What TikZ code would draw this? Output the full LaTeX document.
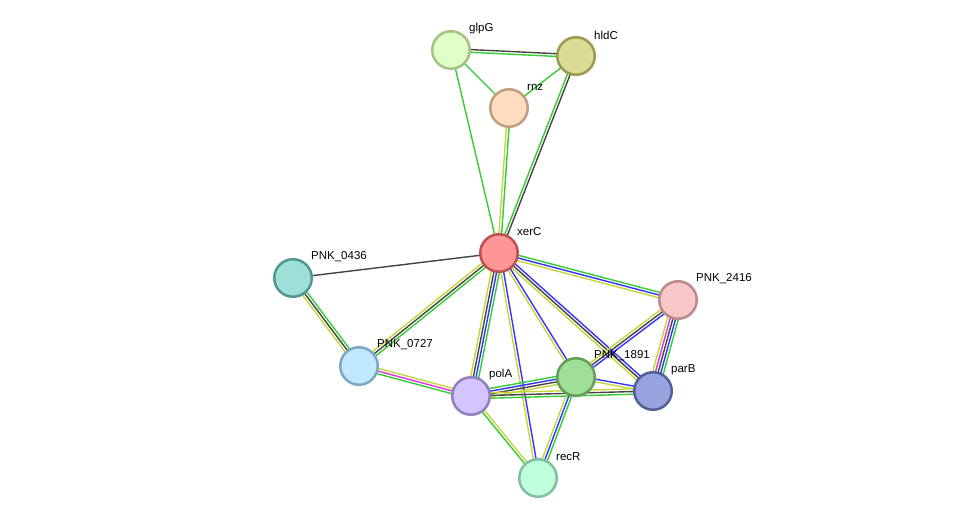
\documentclass[tikz,border=0pt]{standalone}
\usepackage{fontspec}
\setmainfont{Liberation Sans}
\usetikzlibrary{calc,backgrounds}
\definecolor{eg}{HTML}{33CC33}
\definecolor{eb}{HTML}{3333FF}
\definecolor{ek}{HTML}{444444}
\definecolor{ey}{HTML}{C4D63A}
\definecolor{em}{HTML}{E033E0}
\tikzset{
  prot/.style={circle,minimum size=37.5pt,inner sep=0pt,line width=2.5pt},
  lab/.style={anchor=west,font=\fontsize{11.5}{13}\selectfont,text=black,inner sep=1pt},
  eline/.style={line width=1.4pt}
}
\newcommand\sedge[4]{%
  \foreach \c [count=\i] in {#4} {%
    \pgfmathsetmacro\o{(\i-1-(#3-1)/2)*2.7}%
    \draw[eline,\c] ($(#1.center)!\o pt!90:(#2.center)$) -- ($(#2.center)!\o pt!-90:(#1.center)$);
  }%
}
\newcommand\prot[5]{%
  \definecolor{f#1}{HTML}{#4}\definecolor{d#1}{HTML}{#5}%
  \node[prot,fill=f#1,draw=d#1] (#1) at (#2,#3) {};
}
\begin{document}
\begin{tikzpicture}[x=1pt,y=-1pt]
\useasboundingbox (0,0) rectangle (975,524);
\prot{glpG}{451}{50}{E0FFC8}{A4C283}
\prot{hldC}{576}{56}{DCDC96}{9A9A50}
\prot{rnz}{509}{108}{FFDCC0}{C0A080}
\prot{xerC}{499}{253}{FF9696}{C05050}
\prot{p0436}{293}{278}{9EE0D8}{509890}
\prot{p2416}{678}{300}{F8C8C8}{C08888}
\prot{p0727}{359}{366}{C0E8FF}{7EA8C0}
\prot{polA}{471}{396}{D4C4FF}{9080C0}
\prot{p1891}{576}{377}{A0E096}{60A058}
\prot{parB}{653}{391}{98A4E0}{50609A}
\prot{recR}{538}{478}{C0FFDC}{80C0A0}
\node[lab] at ($(glpG.center)+(17,-21)$) {glpG};
\node[lab] at ($(hldC.center)+(17,-21)$) {hldC};
\node[lab] at ($(rnz.center)+(17,-21)$) {rnz};
\node[lab] at ($(xerC.center)+(17,-21)$) {xerC};
\node[lab] at ($(p0436.center)+(17,-21)$) {PNK\_0436};
\node[lab] at ($(p2416.center)+(17,-21)$) {PNK\_2416};
\node[lab] at ($(p0727.center)+(17,-21)$) {PNK\_0727};
\node[lab] at ($(polA.center)+(17,-21)$) {polA};
\node[lab] at ($(p1891.center)+(17,-21)$) {PNK\_1891};
\node[lab] at ($(parB.center)+(17,-21)$) {parB};
\node[lab] at ($(recR.center)+(17,-21)$) {recR};
\begin{pgfonlayer}{background}
\sedge{glpG}{hldC}{2}{eg,ek}
\sedge{glpG}{rnz}{1}{eg}
\sedge{glpG}{xerC}{1}{eg}
\sedge{hldC}{rnz}{1}{eg}
\sedge{hldC}{xerC}{2}{eg,ek}
\sedge{rnz}{xerC}{2}{ey,eg}
\sedge{xerC}{p0436}{1}{ek}
\sedge{xerC}{p0727}{3}{ey,ek,eg}
\sedge{xerC}{polA}{4}{ey,ek,eb,eg}
\sedge{xerC}{recR}{2}{ey,eb}
\sedge{xerC}{p1891}{2}{ey,eb}
\sedge{xerC}{parB}{3}{ey,ek,eb}
\sedge{xerC}{p2416}{3}{ey,eb,eg}
\sedge{p0436}{p0727}{3}{ey,ek,eg}
\sedge{p0727}{polA}{3}{eg,em,ey}
\sedge{polA}{p1891}{4}{ey,ek,eb,eg}
\sedge{polA}{parB}{3}{eg,ek,ey}
\sedge{polA}{recR}{2}{eg,ey}
\sedge{p1891}{recR}{3}{ey,eb,eg}
\sedge{p1891}{parB}{2}{ey,eb}
\sedge{p2416}{p1891}{3}{ey,ek,eb}
\sedge{p2416}{parB}{5}{ey,em,ek,eb,eg}
\end{pgfonlayer}
\end{tikzpicture}
\end{document}
